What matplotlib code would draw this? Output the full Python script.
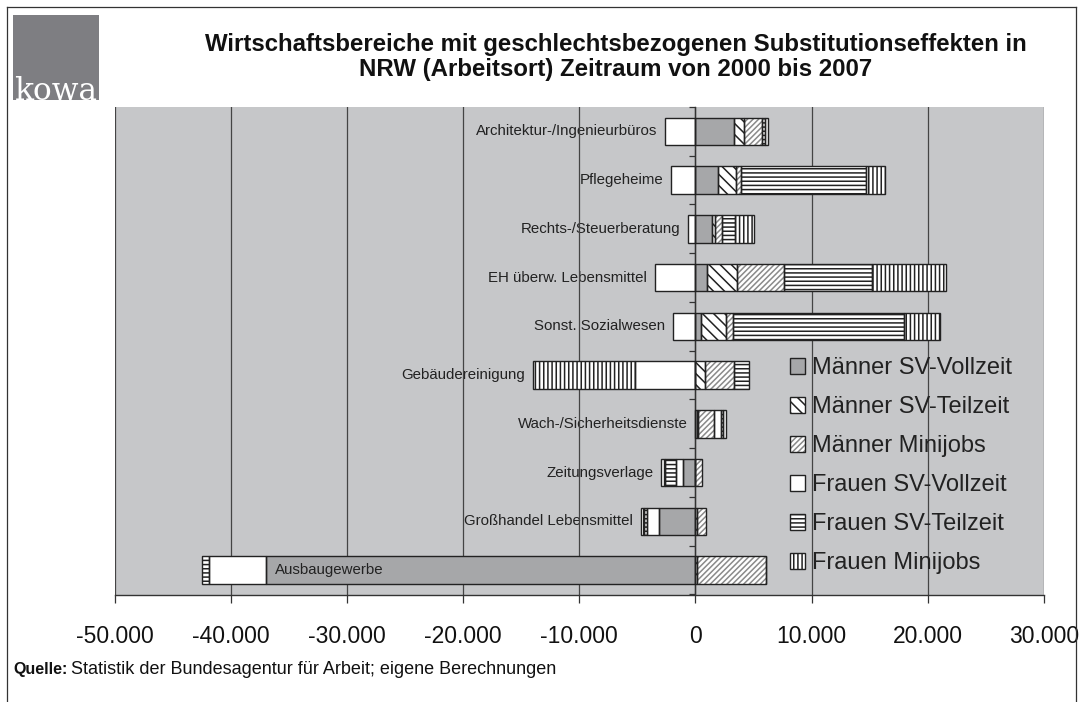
import matplotlib
matplotlib.use("Agg")
import matplotlib.pyplot as plt
import numpy as np
from matplotlib.patches import Patch, Rectangle
from matplotlib.legend_handler import HandlerTuple
from matplotlib.lines import Line2D
from matplotlib.ticker import FuncFormatter

plt.rcParams['font.family'] = ['Liberation Sans', 'DejaVu Sans']
plt.rcParams['hatch.linewidth'] = 1.1

# ---------------- data ----------------
categories = ["Architektur-/Ingenieurbüros", "Pflegeheime", "Rechts-/Steuerberatung",
              "EH überw. Lebensmittel", "Sonst. Sozialwesen", "Gebäudereinigung",
              "Wach-/Sicherheitsdienste", "Zeitungsverlage", "Großhandel Lebensmittel",
              "Ausbaugewerbe"]
series_names = ["Männer SV-Vollzeit", "Männer SV-Teilzeit", "Männer Minijobs",
                "Frauen SV-Vollzeit", "Frauen SV-Teilzeit", "Frauen Minijobs"]
maenner_vz = [3300, 1950, 1460, 1030, 460, 0, 150, -1090, -3100, -37000]
maenner_tz = [890, 1520, 200, 2580, 2150, 800, 100, 0, 100, 150]
maenner_mini = [1550, 490, 660, 3990, 630, 2500, 1320, 600, 775, 5950]
frauen_vz = [-2600, -2100, -600, -3500, -1920, -5230, 630, -575, -1090, -4830]
frauen_tz = [250, 10760, 1060, 7630, 14720, 1290, 150, -950, -200, -650]
frauen_mini = [250, 1580, 1640, 6370, 3100, -8760, 290, -345, -315, 0]
x_ticks = list(range(-50000, 30001, 10000))

title = ("Wirtschaftsbereiche mit geschlechtsbezogenen Substitutionseffekten in\n"
         "NRW (Arbeitsort) Zeitraum von 2000 bis 2007")
source_bold = "Quelle:"
source_text = "Statistik der Bundesagentur für Arbeit; eigene Berechnungen"

# ---------------- styles ----------------
series = [maenner_vz, maenner_tz, maenner_mini, frauen_vz, frauen_tz, frauen_mini]
styles = [
    dict(fc='#a6a7a9', hatch=None, hc='#222222'),
    dict(fc='white', hatch='\\\\\\', hc='#222222'),
    dict(fc='white', hatch='//////', hc='#8a8a8a'),
    dict(fc='white', hatch=None, hc='#222222'),
    dict(fc='white', hatch='----', hc='#222222'),
    dict(fc='white', hatch='||||', hc='#222222'),
]
EDGE = '#222222'

W, H = 1083, 702
fig = plt.figure(figsize=(W / 100, H / 100), dpi=100)
fig.patch.set_facecolor('white')
ax = fig.add_axes([114.5 / W, 1 - 594.5 / H, 929.5 / W, 487.5 / H])
ax.set_facecolor('#c6c7c9')

n = len(categories)
y = np.arange(n)
pos_left = np.zeros(n)
neg_left = np.zeros(n)
bar_h = 0.56
for vals, st in zip(series, styles):
    v = np.array(vals, dtype=float)
    left = np.where(v >= 0, pos_left, neg_left)
    ax.barh(y, v, left=left, height=bar_h, color=st['fc'], edgecolor=st['hc'],
            hatch=st['hatch'], linewidth=0, zorder=2)
    ax.barh(y, v, left=left, height=bar_h, fill=False, edgecolor=EDGE,
            linewidth=1.0, zorder=3)
    pos_left += np.where(v > 0, v, 0)
    neg_left += np.where(v < 0, v, 0)

ax.set_xlim(-50000, 30000)
ax.set_ylim(n - 0.5, -0.5)

# category labels
for i, cat in enumerate(categories):
    left_end = neg_left[i]
    if left_end < -30000:
        ax.annotate(cat, xy=(maenner_vz[i], y[i]), xytext=(7, 0), textcoords='offset points',
                    ha='left', va='center', fontsize=10.8, color='#222222', zorder=4)
    else:
        ax.annotate(cat, xy=(left_end, y[i]), xytext=(-5.5, 0), textcoords='offset points',
                    ha='right', va='center', fontsize=10.8, color='#222222', zorder=0.3)

# axes / grid
ax.set_xticks(x_ticks)
ax.xaxis.set_major_formatter(FuncFormatter(lambda v, p: f"{v:,.0f}".replace(',', '.')))
ax.grid(axis='x', color='#444444', linewidth=0.9)
ax.set_axisbelow(True)
ax.tick_params(axis='x', direction='out', length=6, width=0.9, color='#333333',
               labelsize=16.5, pad=16, labelcolor='#111111')
ax.spines['top'].set_visible(False)
ax.spines['right'].set_visible(False)
ax.spines['bottom'].set_color('#333333')
ax.spines['bottom'].set_linewidth(1.0)
ax.spines['left'].set_position(('data', 0))
ax.spines['left'].set_color('#333333')
ax.spines['left'].set_linewidth(1.0)
ax.set_yticks(np.arange(n + 1) - 0.5)
ax.set_yticklabels([])
ax.tick_params(axis='y', direction='out', length=4, width=0.9, color='#333333')

# legend
handles = []
for st in styles:
    h1 = Patch(facecolor=st['fc'], edgecolor=st['hc'], hatch=st['hatch'], linewidth=0)
    h2 = Patch(fill=False, edgecolor=EDGE, linewidth=1.0)
    handles.append((h1, h2))
fig.legend(handles, series_names, handler_map={tuple: HandlerTuple(ndivide=1)},
           loc='upper left', bbox_to_anchor=(790 / W, 1 - 357 / H),
           bbox_transform=fig.transFigure, frameon=False, fontsize=17,
           handlelength=0.65, handleheight=0.65, handletextpad=0.3,
           labelspacing=0.72, borderpad=0, borderaxespad=0, labelcolor='#222222')

# title
fig.text(616 / W, 1 - 57 / H, title, ha='center', va='center', fontsize=17.3,
         fontweight='bold', color='#111111', linespacing=1.15)

# source (shared baseline)
base_y = 1 - 674 / H
t = fig.text(13 / W, base_y, source_bold, ha='left', va='baseline', fontsize=11.5,
             fontweight='bold', color='#111111')
renderer = fig.canvas.get_renderer()
bb = t.get_window_extent(renderer=renderer)
fig.text((bb.x1 + 4) / W, base_y, source_text, ha='left', va='baseline', fontsize=13.0,
         color='#111111')

# logo
fig.add_artist(Rectangle((13 / W, 1 - 100 / H), 86 / W, 85 / H, transform=fig.transFigure,
                         facecolor='#7e7e82', edgecolor='none'))
fig.text(14 / W, 1 - 100 / H, "kowa", ha='left', va='baseline', fontsize=22.5,
         family='DejaVu Serif', color='white')

# outer frame
for xs, ys in [([7 / W, 7 / W], [0, 1 - 7 / H]), ([7 / W, 1076 / W], [1 - 7 / H, 1 - 7 / H]),
               ([1076 / W, 1076 / W], [1 - 7 / H, 0])]:
    fig.add_artist(Line2D(xs, ys, transform=fig.transFigure, color='#333333', linewidth=0.9))

fig.savefig("out.png", dpi=100)
